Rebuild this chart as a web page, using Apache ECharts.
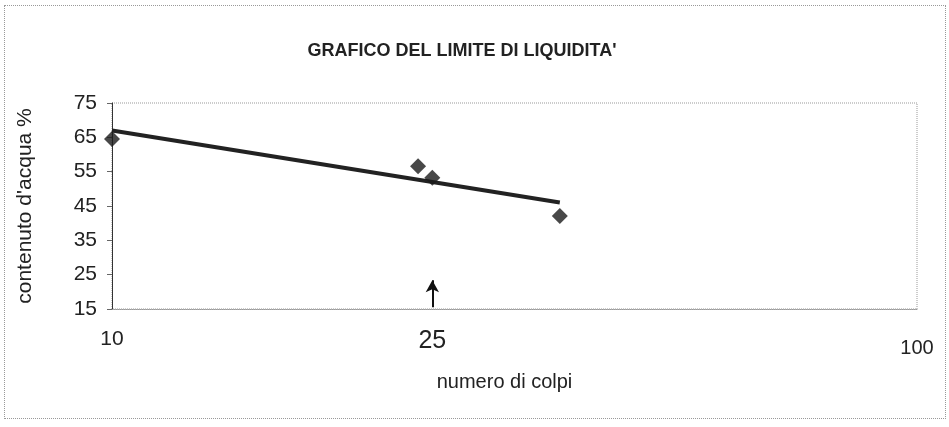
<!DOCTYPE html>
<html>
<head>
<meta charset="utf-8">
<script src="https://cdn.jsdelivr.net/npm/echarts@6/dist/echarts.min.js"></script>
<style>
  html, body { margin: 0; padding: 0; background: #fff; }
  #chart { width: 949px; height: 427px; box-sizing: border-box; }
  #frame { position: absolute; left: 4px; top: 5px; width: 940px; height: 412px; border: 1px dotted #999; pointer-events: none; }
</style>
</head>
<body>
<div id="chart"></div>
<div id="frame"></div>
<script>
// numero di colpi / contenuto d'acqua %
const colpi = [10, 24, 25, 36]
const acqua = [64.5, 56.6, 53.2, 42.1]
// linea di tendenza (estremi)
const trendColpi = [10, 36]
const trendAcqua = [67, 46]
// freccia sul valore 25
const arrowColpi = 25
const arrowAcqua = [15.5, 23.4]
const xTicks = [10, 25, 100]

const chart = echarts.init(document.getElementById('chart'))

const labelStyle = size => ({ fontSize: size, fontFamily: 'Liberation Sans', color: '#222' })

const option = {
  backgroundColor: '#fff',
  animation: false,
  title: {
    text: "GRAFICO DEL LIMITE DI LIQUIDITA'",
    left: 457,
    top: 37,
    textAlign: 'center',
    textStyle: { fontFamily: 'Liberation Sans', fontSize: 18, fontWeight: 'bold', color: '#222' }
  },
  grid: {
    left: 112,
    right: 32,
    top: 103,
    bottom: 118,
    show: true,
    borderColor: '#999',
    borderWidth: 1,
    borderType: 'dotted'
  },
  xAxis: {
    type: 'log',
    logBase: 10,
    min: 10,
    max: 100,
    name: 'numero di colpi',
    nameLocation: 'middle',
    nameGap: 63,
    nameTextStyle: { fontFamily: 'Liberation Sans', fontSize: 20, color: '#222', padding: [0, 20, 0, 0] },
    axisLine: { lineStyle: { color: '#999', type: 'dotted' } },
    axisTick: { show: false },
    splitLine: { show: false },
    axisLabel: Object.assign({
      customValues: xTicks,
      margin: 20,
      formatter: v => (v === 100 ? '{b|' : v === 25 ? '{c|' : '{a|') + v + '}',
      rich: {
        a: labelStyle(21),
        c: labelStyle(25),
        b: Object.assign(labelStyle(20), { padding: [9, 0, 0, 0] })
      }
    }, labelStyle(21))
  },
  yAxis: {
    type: 'value',
    min: 15,
    max: 75,
    interval: 10,
    name: "contenuto d'acqua %",
    nameLocation: 'middle',
    nameGap: 76,
    nameTextStyle: { fontFamily: 'Liberation Sans', fontSize: 21, color: '#222' },
    axisLine: { show: true, lineStyle: { color: '#333', width: 1 } },
    axisTick: { show: true, length: 5, lineStyle: { color: '#666' } },
    splitLine: { show: false },
    axisLabel: Object.assign({ margin: 15 }, labelStyle(21))
  },
  series: [
    {
      type: 'line',
      data: trendColpi.map((x, i) => [x, trendAcqua[i]]),
      symbol: 'none',
      lineStyle: { color: '#222', width: 4 },
      z: 2
    },
    {
      type: 'scatter',
      data: colpi.map((x, i) => [x, acqua[i]]),
      symbol: 'diamond',
      symbolSize: 16,
      itemStyle: { color: '#1a1a1a' },
      z: 3,
      markLine: {
        silent: true,
        symbol: ['none', 'arrow'],
        symbolSize: [10, 12],
        label: { show: false },
        lineStyle: { color: '#111', width: 2, type: 'solid' },
        data: [[{ coord: [arrowColpi, arrowAcqua[0]] }, { coord: [arrowColpi, arrowAcqua[1]] }]]
      }
    }
  ]
}

chart.setOption(option)
</script>
</body>
</html>
